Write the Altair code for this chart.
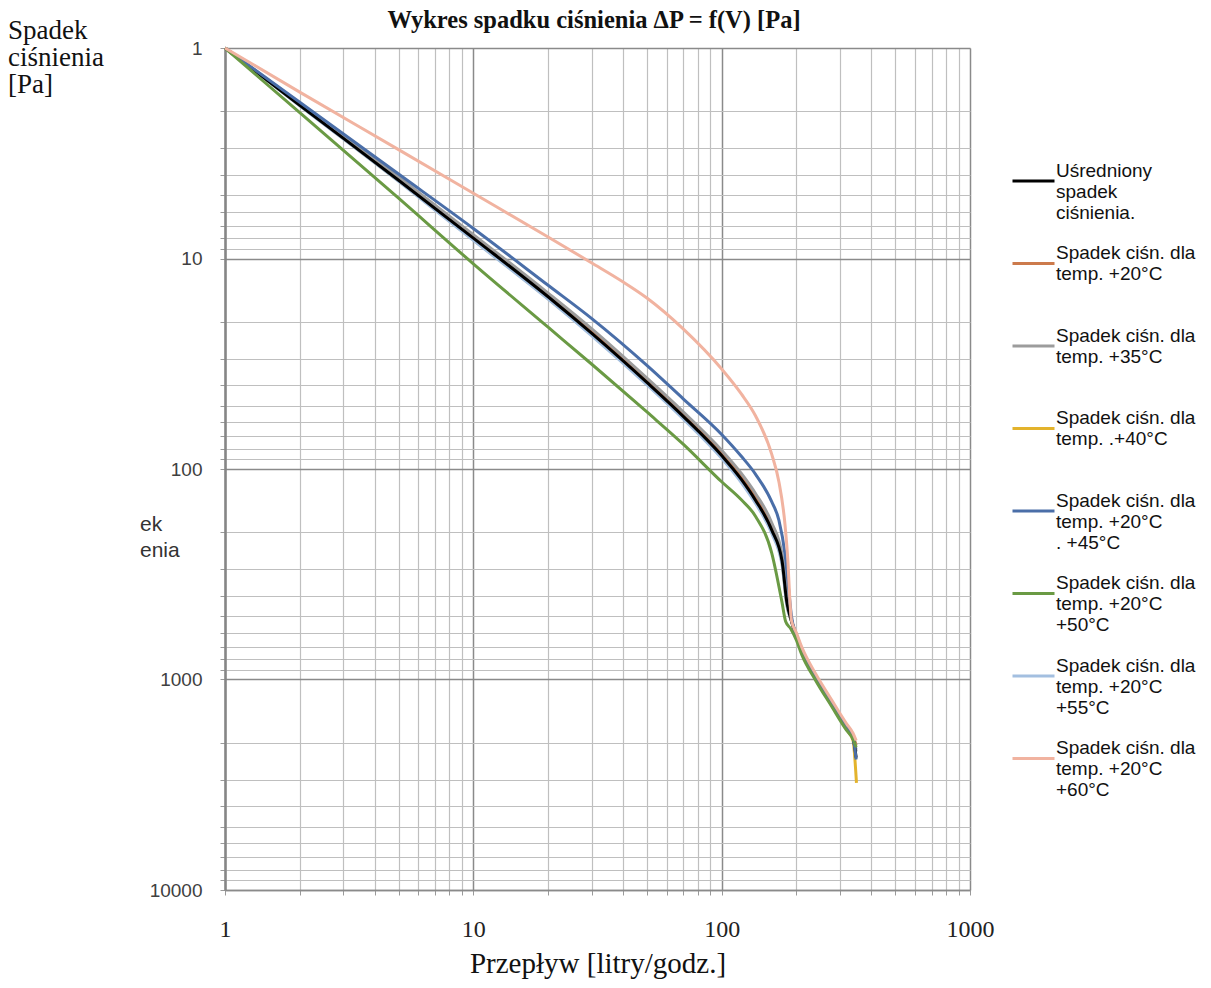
import altair as alt
import pandas as pd

# ---------------- data ----------------
series_keys = [
    "Uśredniony spadek ciśnienia.",
    "Spadek ciśn. dla temp. +20°C",
    "Spadek ciśn. dla temp. +35°C",
    "Spadek ciśn. dla temp. .+40°C",
    "Spadek ciśn. dla temp. +20°C . +45°C",
    "Spadek ciśn. dla temp. +20°C +50°C",
    "Spadek ciśn. dla temp. +20°C +55°C",
    "Spadek ciśn. dla temp. +20°C +60°C",
]
legend_lines = [
    ["Uśredniony", "spadek", "ciśnienia."],
    ["Spadek ciśn. dla", "temp. +20°C"],
    ["Spadek ciśn. dla", "temp. +35°C"],
    ["Spadek ciśn. dla", "temp. .+40°C"],
    ["Spadek ciśn. dla", "temp. +20°C", ". +45°C"],
    ["Spadek ciśn. dla", "temp. +20°C", "+50°C"],
    ["Spadek ciśn. dla", "temp. +20°C", "+55°C"],
    ["Spadek ciśn. dla", "temp. +20°C", "+60°C"],
]

flow_avg = [1, 2, 5, 10, 20, 30, 50, 70, 100, 120, 137, 159, 175, 183, 191, 200, 210, 239, 277, 318, 338, 348]
dp_avg = [1, 1.87, 4.25, 8.0, 15.2, 22.7, 38.8, 56.2, 86.3, 112, 141, 195, 273, 430, 528, 625, 730, 980, 1300, 1700, 1890, 2350]

flow_20 = [1, 2, 5, 10, 20, 30, 50, 70, 100, 120, 137, 159, 175, 183, 191, 200, 210, 239, 277, 318, 338, 348]
dp_20 = [1, 1.85, 4.15, 7.85, 14.9, 22.1, 37.9, 54.8, 84.0, 108, 136, 188, 265, 410, 522, 610, 715, 960, 1280, 1660, 1850, 2050]

flow_35 = [1, 2, 5, 10, 20, 30, 50, 70, 100, 120, 137, 159, 175, 183, 191, 200, 210, 239, 277, 318, 338, 348]
dp_35 = [1, 1.83, 4.1, 7.7, 14.6, 21.6, 37.0, 53.5, 81.5, 105, 131, 180, 255, 400, 520, 620, 724, 973, 1294, 1690, 1880, 2200]

flow_40 = [1, 2, 5, 10, 20, 30, 50, 70, 100, 120, 137, 159, 175, 183, 191, 200, 210, 239, 277, 318, 338, 349]
dp_40 = [1, 1.87, 4.28, 8.15, 15.5, 23.1, 39.5, 57.3, 88.0, 114, 144, 199, 280, 440, 527, 630, 735, 990, 1320, 1720, 1950, 3100]

flow_45 = [1, 2, 5, 10, 20, 30, 50, 70, 100, 120, 137, 159, 170, 180, 186, 191, 200, 210, 239, 277, 318, 338, 348]
dp_45 = [1, 1.81, 3.97, 7.2, 13.4, 19.3, 32.2, 46.4, 68.5, 87.0, 106, 143, 175, 255, 370, 500, 620, 724, 975, 1300, 1700, 1900, 2400]

flow_50 = [1, 2, 5, 10, 20, 30, 50, 70, 100, 120, 137, 159, 175, 181, 190, 200, 210, 239, 277, 318, 338, 348]
dp_50 = [1, 2.03, 5.17, 10.6, 21.2, 31.8, 53.6, 76.2, 115, 140, 168, 250, 430, 530, 575, 650, 760, 1010, 1340, 1740, 1920, 2100]

flow_55 = [1, 2, 5, 10, 20, 30, 50, 70, 100, 120, 137, 159, 175, 183, 191, 200, 210, 239, 277, 318, 338, 348]
dp_55 = [1, 1.88, 4.3, 8.2, 15.6, 23.3, 39.8, 57.8, 89.0, 116, 146, 202, 285, 445, 530, 630, 735, 985, 1310, 1710, 1900, 2150]

flow_60 = [1, 2, 5, 10, 20, 30, 40, 50, 70, 100, 120, 137, 159, 170, 180, 185, 188, 191, 200, 210, 239, 277, 318, 338, 348]
dp_60 = [1, 1.62, 3.04, 4.9, 7.9, 10.5, 12.9, 15.4, 21.6, 33.5, 44.0, 56.0, 85.0, 115, 185, 280, 410, 525, 600, 700, 940, 1250, 1620, 1800, 1950]

flows = [flow_avg, flow_20, flow_35, flow_40, flow_45, flow_50, flow_55, flow_60]
drops = [dp_avg, dp_20, dp_35, dp_40, dp_45, dp_50, dp_55, dp_60]

x_tick_values = [1, 2, 3, 4, 5, 6, 7, 8, 9, 10, 20, 30, 40, 50, 60, 70, 80, 90,
                 100, 200, 300, 400, 500, 600, 700, 800, 900, 1000]
y_tick_values = [1, 2, 3, 4, 5, 6, 7, 8, 9, 10, 20, 30, 40, 50, 60, 70, 80, 90,
                 100, 200, 300, 400, 500, 600, 700, 800, 900,
                 1000, 2000, 3000, 4000, 5000, 6000, 7000, 8000, 9000, 10000]
x_major = [1, 10, 100, 1000]
y_major = [1, 10, 100, 1000, 10000]

title_text = "Wykres spadku ciśnienia ΔP = f(V) [Pa]"
y_title_text = "Spadek\nciśnienia\n[Pa]"
x_title_text = "Przepływ [litry/godz.]"
stray_text = "ek\nenia"

# ---------------- styles ----------------
colors = ["#000000", "#cc7a4c", "#9c9c9c", "#e3b32c", "#4a6ea8", "#6a9a44", "#a3bfe0", "#f1b3a0"]
widths = [3, 3, 3, 3, 3, 3, 6, 3]
draw_order = [3, 1, 6, 2, 0, 4, 5, 7]

rows = []
for idx in draw_order:
    for v, p in zip(flows[idx], drops[idx]):
        rows.append({"series": series_keys[idx], "flow": v, "drop": p})
df = pd.DataFrame(rows)


def js_arr(items):
    return "[" + ", ".join("'" + s + "'" for s in items) + "]"


label_expr = "datum.label"
for key, lines_ in reversed(list(zip(series_keys, legend_lines))):
    block = lines_ + [""] * (3 - len(lines_))
    label_expr = f"datum.label == '{key}' ? {js_arr(block)} : ({label_expr})"

x_major_test = "indexof([" + ",".join(str(v) for v in x_major) + "], datum.value) >= 0"
y_major_test = "indexof([" + ",".join(str(v) for v in y_major) + "], datum.value) >= 0"

MAJ = "#8a8a8a"
MIN = "#bfbfbf"

x_axis = alt.Axis(
    values=x_tick_values,
    labelExpr=f"{x_major_test} ? format(datum.value, 'd') : ''",
    labelOverlap=False, labelFlush=False, labelBound=False,
    labelFont="Liberation Serif", labelFontSize=24, labelColor="#222222",
    labelPadding=22,
    grid=True,
    gridColor={"condition": {"test": x_major_test, "value": MAJ}, "value": MIN},
    gridWidth={"condition": {"test": x_major_test, "value": 1.5}, "value": 1.2},
    ticks=True, tickSize=5, tickColor="#9a9a9a", tickWidth=1,
    domain=True, domainColor=MAJ, domainWidth=1.5,
    title=x_title_text, titleFont="Liberation Serif", titleFontSize=29,
    titleFontWeight="normal", titleColor="#111111", titlePadding=8,
)
y_axis = alt.Axis(
    values=y_tick_values,
    labelExpr=f"{y_major_test} ? format(datum.value, 'd') : ''",
    labelOverlap=False, labelFlush=False, labelBound=False,
    labelFont="Liberation Sans", labelFontSize=19, labelColor="#404040",
    labelPadding=18,
    grid=True,
    gridColor={"condition": {"test": y_major_test, "value": MAJ}, "value": MIN},
    gridWidth={"condition": {"test": y_major_test, "value": 1.5}, "value": 1.2},
    ticks=True, tickSize=5, tickColor="#9a9a9a", tickWidth=1,
    domain=True, domainColor="#868686", domainWidth=2.5,
    title=None,
)

legend = alt.Legend(
    title=None, orient="none", legendX=786, legendY=100, direction="vertical",
    symbolType="M-1,0.5H1", symbolSize=1764, symbolStrokeWidth=3,
    labelFont="Liberation Sans", labelFontSize=19, labelColor="#111111",
    labelLimit=0, labelOffset=0, labelExpr=label_expr,
    rowPadding=7.5, padding=0, symbolOffset=0,
)

lines = alt.Chart(df).mark_line(interpolate="monotone").encode(
    x=alt.X("flow:Q", scale=alt.Scale(type="log", domain=[1, 1000], nice=False), axis=x_axis),
    y=alt.Y("drop:Q", scale=alt.Scale(type="log", domain=[1, 10000], nice=False, reverse=True), axis=y_axis),
    color=alt.Color("series:N", scale=alt.Scale(domain=series_keys, range=colors), legend=legend),
    strokeWidth=alt.StrokeWidth("series:N", scale=alt.Scale(domain=series_keys, range=widths), legend=None),
    detail="series:N",
)

title = alt.Chart(pd.DataFrame({"t": [title_text]})).mark_text(
    font="Liberation Serif", fontSize=24.5, fontWeight="bold", color="#111111",
    align="center", baseline="alphabetic",
).encode(text="t:N", x=alt.value(369), y=alt.value(-20))

y_title = alt.Chart(pd.DataFrame({"t": [y_title_text]})).mark_text(
    font="Liberation Serif", fontSize=27, color="#111111", align="left",
    baseline="alphabetic", lineBreak="\n", lineHeight=27,
).encode(text="t:N", x=alt.value(-217), y=alt.value(-9))

stray = alt.Chart(pd.DataFrame({"t": [stray_text]})).mark_text(
    font="Liberation Sans", fontSize=21, color="#333333", align="left",
    baseline="alphabetic", lineBreak="\n", lineHeight=26,
).encode(text="t:N", x=alt.value(-85), y=alt.value(483))

chart = alt.layer(lines, title, y_title, stray).properties(
    width=745,
    height=842,
    autosize=alt.AutoSizeParams(type="none"),
    padding={"left": 217, "top": 40, "right": 229, "bottom": 90},
).configure_view(stroke=None).configure(background="white")

chart.save("out.html", embed_options={"renderer": "svg", "actions": False})
